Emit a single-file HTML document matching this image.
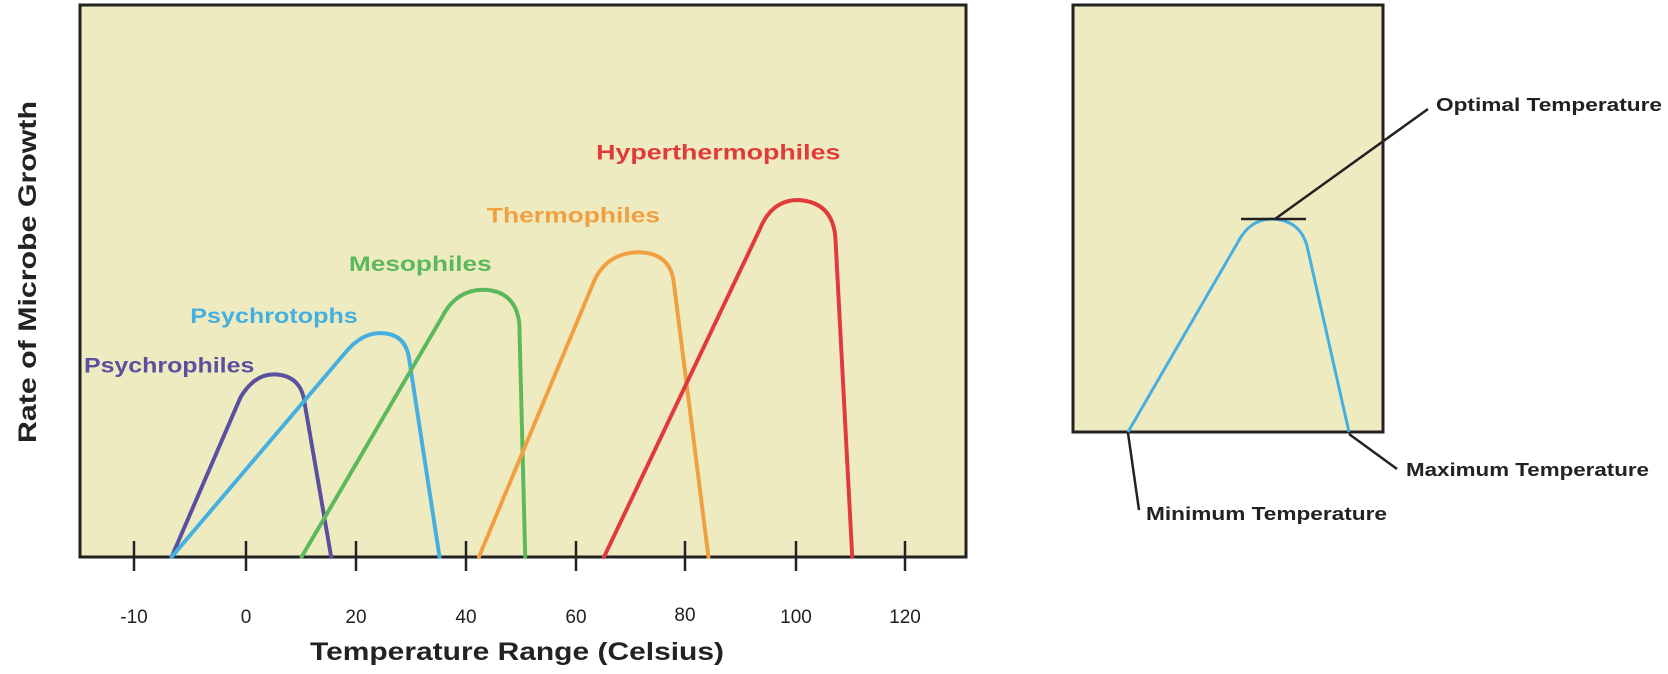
<!DOCTYPE html>
<html><head><meta charset="utf-8"><style>html,body{margin:0;padding:0;background:#fff;}svg{display:block}</style></head>
<body>
<svg width="1668" height="674" viewBox="0 0 1668 674" xmlns="http://www.w3.org/2000/svg" font-family="Liberation Sans, sans-serif" font-weight="bold">
<rect x="80" y="5" width="886" height="552" fill="#efebc0" stroke="#222" stroke-width="3"/>
<g stroke="#222" stroke-width="2.5">
<line x1="134" y1="541" x2="134" y2="571"/><line x1="246" y1="541" x2="246" y2="571"/><line x1="356" y1="541" x2="356" y2="571"/><line x1="466" y1="541" x2="466" y2="571"/><line x1="576" y1="541" x2="576" y2="571"/><line x1="685" y1="541" x2="685" y2="571"/><line x1="796" y1="541" x2="796" y2="571"/><line x1="905" y1="541" x2="905" y2="571"/>
</g>
<g font-size="19" font-weight="normal" fill="#222" text-anchor="middle">
<text x="134" y="623">-10</text><text x="246" y="623">0</text><text x="356" y="623">20</text><text x="466" y="623">40</text><text x="576" y="623">60</text><text x="685" y="621">80</text><text x="796" y="623">100</text><text x="905" y="623">120</text>
</g>
<text x="517" y="660" font-size="25" fill="#222" text-anchor="middle" textLength="414" lengthAdjust="spacingAndGlyphs">Temperature Range (Celsius)</text>
<text transform="translate(36,272) rotate(-90)" font-size="25" fill="#222" text-anchor="middle" textLength="342" lengthAdjust="spacingAndGlyphs">Rate of Microbe Growth</text>
<g transform="translate(80,200) scale(0.985,0.986) translate(-80,-200)">
<g fill="none" stroke-width="4" stroke-linejoin="round" stroke-linecap="round">
<path d="M173,562 L243,400 Q258,375 280,377 Q302,379 307,400 L335,562" stroke="#5b4fa0"/>
<path d="M173,562 L350,354 Q366,335 385,335 Q410,335 414,360 L445,562" stroke="#45b0e0"/>
<path d="M305,562 L448,318 Q462,291 490,291 Q522,292 526,325 L532,562" stroke="#5cb85c"/>
<path d="M485,562 L602,282 Q615,254 646,253 Q680,253 683,285 L718,562" stroke="#f0a040"/>
<path d="M612,562 L770,230 Q782,200 809,200 Q845,202 847,240 L864,562" stroke="#e03a3a"/>
</g>
<g font-size="22">
<text x="84" y="375" fill="#5b4fa0" textLength="173" lengthAdjust="spacingAndGlyphs">Psychrophiles</text>
<text x="192" y="325" fill="#45b0e0" textLength="170" lengthAdjust="spacingAndGlyphs">Psychrotophs</text>
<text x="353" y="272" fill="#5cb85c" textLength="145" lengthAdjust="spacingAndGlyphs">Mesophiles</text>
<text x="493" y="223" fill="#f0a040" textLength="176" lengthAdjust="spacingAndGlyphs">Thermophiles</text>
<text x="604" y="159" fill="#e03a3a" textLength="248" lengthAdjust="spacingAndGlyphs">Hyperthermophiles</text>
</g>
</g>
<rect x="1073" y="5" width="310" height="427" fill="#efebc0" stroke="#222" stroke-width="3"/>
<path d="M1128,432 L1238,242 Q1250,219 1272,219 Q1300,220 1307,246 L1349,432" fill="none" stroke="#45b0e0" stroke-width="3" stroke-linejoin="round"/>
<g stroke="#222" stroke-width="2.5" fill="none">
<line x1="1241" y1="219" x2="1306" y2="219"/>
<line x1="1275" y1="219" x2="1428" y2="109"/>
<line x1="1128" y1="433" x2="1139" y2="510"/>
<line x1="1349" y1="434" x2="1397" y2="469"/>
</g>
<g font-size="18" fill="#222">
<text x="1436" y="111" textLength="226" lengthAdjust="spacingAndGlyphs">Optimal Temperature</text>
<text x="1406" y="476" textLength="243" lengthAdjust="spacingAndGlyphs">Maximum Temperature</text>
<text x="1146" y="520" textLength="241" lengthAdjust="spacingAndGlyphs">Minimum Temperature</text>
</g>
</svg>
</body></html>
